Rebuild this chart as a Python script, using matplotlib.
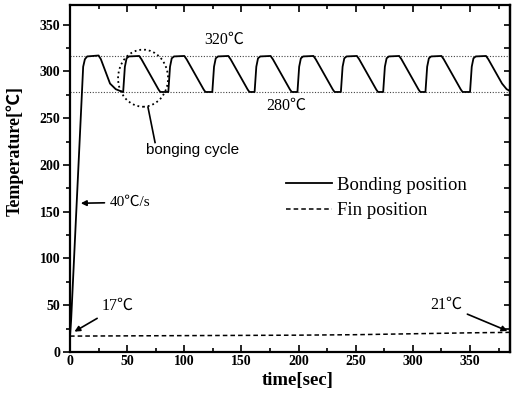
import matplotlib
matplotlib.use('Agg')
from matplotlib import pyplot as plt
from matplotlib.patches import Ellipse
from matplotlib.ticker import MultipleLocator, NullFormatter

# bonding position, key points (one row per cycle)
bond_time = [0, 1, 11.5, 13, 15, 25, 27, 31, 35, 40, 46,
             46.5, 48, 49.5, 51.5, 60.5, 62.5, 68.5, 74.5, 77.5, 79,
             86, 87.5, 89, 91, 100, 102, 108, 114, 117, 118.5,
             124.5, 126, 127.5, 129.5, 138.5, 140.5, 146.5, 152.5, 155.5, 157,
             161.5, 163, 164.5, 166.5, 175.5, 177.5, 183.5, 189.5, 192.5, 194,
             199, 200.5, 202, 204, 213, 215, 221, 227, 230, 231.5,
             237, 238.5, 240, 242, 251, 253, 259, 265, 268, 269.5,
             274, 275.5, 277, 279, 288, 290, 296, 302, 305, 306.5,
             311, 312.5, 314, 316, 325, 327, 333, 339, 342, 343.5,
             350, 351.5, 353, 355, 364, 366, 372, 378, 382, 385]
bond_temp = [17, 35, 305, 313, 316, 317, 313, 300, 287, 281, 278,
             278, 305, 314, 316, 316.5, 313, 300, 287, 280.5, 278,
             278, 305, 314, 316, 316.5, 313, 300, 287, 280.5, 278,
             278, 305, 314, 316, 316.5, 313, 300, 287, 280.5, 278,
             278, 305, 314, 316, 316.5, 313, 300, 287, 280.5, 278,
             278, 305, 314, 316, 316.5, 313, 300, 287, 280.5, 278,
             278, 305, 314, 316, 316.5, 313, 300, 287, 280.5, 278,
             278, 305, 314, 316, 316.5, 313, 300, 287, 280.5, 278,
             278, 305, 314, 316, 316.5, 313, 300, 287, 280.5, 278,
             278, 305, 314, 316, 316.5, 313, 300, 287, 281, 279]

# fin position
fin_time = [0, 100, 200, 250, 300, 350, 385]
fin_temp = [17, 17.5, 18, 18.5, 19.5, 20.5, 21]

upper_ref = 316
lower_ref = 278

plt.rcParams['font.family'] = ['Liberation Serif', 'Noto Sans CJK SC']

fig = plt.figure(figsize=(5.13, 3.99), dpi=100)
ax = fig.add_axes([0.1365, 0.1178, 0.8577, 0.8697])

ax.axhline(upper_ref, color='#444444', lw=0.8, ls=(0, (1, 1.5)))
ax.axhline(lower_ref, color='#444444', lw=0.8, ls=(0, (1, 1.5)))

ax.plot(bond_time, bond_temp, color='black', lw=1.3, label='Bonding position')
ax.plot(fin_time, fin_temp, color='black', lw=1.1, ls=(0, (3, 2)), label='Fin position')

ax.set_xlim(0, 385)
ax.set_ylim(0, 371)
ax.xaxis.set_major_locator(MultipleLocator(50))
ax.xaxis.set_minor_locator(MultipleLocator(25))
ax.yaxis.set_major_locator(MultipleLocator(50))
ax.yaxis.set_minor_locator(MultipleLocator(25))
ax.tick_params(axis='x', which='both', direction='in', top=True, width=1.2)
ax.tick_params(axis='y', which='both', direction='out', width=1.2)
ax.tick_params(which='major', length=5)
ax.tick_params(which='minor', length=3)
ax.tick_params(labelsize=10, pad=2)
for lab in ax.get_xticklabels() + ax.get_yticklabels():
    lab.set_fontweight('bold')
for s in ax.spines.values():
    s.set_linewidth(1.6)

# inward ticks on the right side
right = ax.secondary_yaxis('right')
right.yaxis.set_major_locator(MultipleLocator(25))
right.yaxis.set_major_formatter(NullFormatter())
right.tick_params(direction='in', length=4, width=1.2)
right.spines['right'].set_linewidth(1.6)

ax.set_xlabel('time[sec]', fontsize=13.5, fontweight='bold')
ax.set_ylabel('Temperature[℃]', fontsize=13, fontweight='bold')
ax.xaxis.set_label_coords(0.518, -0.058)
ax.yaxis.set_label_coords(-0.106, 0.579)

# annotations
ax.text(134.8, 334, '320℃', fontsize=11.5, ha='center', va='center')
ax.text(189, 263, '280℃', fontsize=11.5, ha='center', va='center')
ax.add_patch(Ellipse((63.9, 292.7), 43.75, 61, fill=False, ls=':', lw=1.3, color='black'))
ax.plot([74.4, 68.2], [224, 261.8], color='black', lw=1.2)
ax.text(107, 216, 'bonging cycle', fontsize=11, ha='center', va='center',
        family=['Liberation Sans', 'DejaVu Sans'])

arrow = dict(arrowstyle='-|>', color='black', lw=1.2, mutation_scale=8)
ax.annotate('40℃/s', xy=(7, 159), xytext=(35, 160), fontsize=11,
            ha='left', va='center', arrowprops=arrow)
ax.annotate('17℃', xy=(1.75, 20.3), xytext=(28, 49), fontsize=11.5,
            ha='left', va='center', arrowprops=arrow)
ax.annotate('21℃', xy=(385, 21.4), xytext=(315, 50), fontsize=11.5,
            ha='left', va='center', arrowprops=arrow)

ax.legend(loc='upper left', bbox_to_anchor=(0.49, 0.506), frameon=False,
          fontsize=13.5, handlelength=2.5, handletextpad=0.25,
          borderpad=0, borderaxespad=0, labelspacing=0.45)

fig.savefig('out.png', dpi=100)
plt.close(fig)
